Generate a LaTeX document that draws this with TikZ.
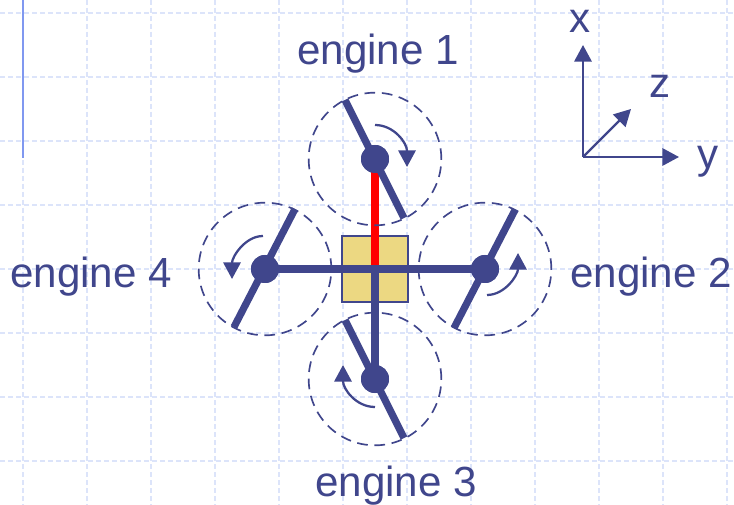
\documentclass[tikz,border=0pt]{standalone}
\usepackage{fontspec}
\setmainfont{Liberation Sans}
\usetikzlibrary{arrows.meta}
\definecolor{RotorBlue}{HTML}{40468C}
\definecolor{GridBlue}{HTML}{DCE4FA}
\definecolor{RuleBlue}{HTML}{8098F0}
\definecolor{BodyYellow}{HTML}{ECD882}
\tikzset{
  gridline/.style={draw=GridBlue, line width=0.8pt, dash pattern=on 3.5pt off 2.5pt},
  sweep/.style={circle, draw=RotorBlue, line width=1.25pt, dash pattern=on 8pt off 5pt, minimum size=99.5pt, inner sep=0pt},
  hub/.style={circle, fill=RotorBlue, minimum size=21pt, inner sep=0pt},
  blade/.style={draw=RotorBlue, line width=5.4pt},
  arm/.style={draw=RotorBlue, line width=6pt},
  turn/.style={draw=RotorBlue, line width=1.7pt, -{Triangle[length=12.5pt, width=13pt]}},
  axis/.style={draw=RotorBlue, line width=1.7pt, -{Triangle[length=12.5pt, width=13pt]}},
  label/.style={text=RotorBlue, font=\fontsize{31.6}{36}\selectfont, anchor=base, inner sep=0pt}
}
\begin{document}
\begin{tikzpicture}[x=0.75pt, y=-0.75pt]
  \useasboundingbox (0,0) rectangle (734,505);
  \fill[white] (0,0) rectangle (734,505);
  \foreach \gx in {23,87,...,727}
    \draw[gridline] (\gx,0) -- (\gx,505);
  \foreach \gy in {13,77,...,461}
    \draw[gridline] (0,\gy) -- (734,\gy);
  \draw[draw=RuleBlue, line width=1.6pt] (23,0) -- (23,158);

  \node[draw=RotorBlue, line width=1.5pt, fill=BodyYellow, minimum size=49pt, inner sep=0pt] (body) at (375,269) {};
  \coordinate (centre) at (375,269);

  \node[hub] (hubone) at (375,159) {};
  \node[hub] (hubtwo) at (485,269) {};
  \node[hub] (hubthree) at (375,379) {};
  \node[hub] (hubfour) at (265,269) {};

  \draw[draw=red, line width=6pt] (hubone.center) -- (centre);
  \node[sweep] (sweepone) at (hubone) {};
  \node[sweep] (sweeptwo) at (hubtwo) {};
  \node[sweep] (sweepthree) at (hubthree) {};
  \node[sweep] (sweepfour) at (hubfour) {};

  \coordinate (bladeonea) at (345,100);
  \coordinate (bladeoneb) at (404,218);
  \coordinate (bladetwoa) at (515,210);
  \coordinate (bladetwob) at (454,328);
  \coordinate (bladethreea) at (345,320);
  \coordinate (bladethreeb) at (404,438);
  \coordinate (bladefoura) at (295,209);
  \coordinate (bladefourb) at (234,327);
  \draw[blade] (bladeonea) -- (bladeoneb);
  \draw[blade] (bladetwoa) -- (bladetwob);
  \draw[blade] (bladethreea) -- (bladethreeb);
  \draw[blade] (bladefoura) -- (bladefourb);

  \draw[arm] (hubfour.center) -- (hubtwo.center);
  \draw[arm] (centre) -- (hubthree.center);
  \node[hub] at (hubone) {};
  \node[hub] at (hubtwo) {};
  \node[hub] at (hubthree) {};
  \node[hub] at (hubfour) {};

  \coordinate (turnonea) at (375,125);
  \coordinate (turnoneb) at (407,167);
  \coordinate (turntwoa) at (487,295);
  \coordinate (turntwob) at (518,253);
  \coordinate (turnthreea) at (375,407);
  \coordinate (turnthreeb) at (343,365);
  \coordinate (turnfoura) at (263,236);
  \coordinate (turnfourb) at (232,279);
  \draw[turn] (turnonea) .. controls +(19,0) and +(0,-24) .. (turnoneb);
  \draw[turn] (turntwoa) .. controls +(18,0) and +(0,22) .. (turntwob);
  \draw[turn] (turnthreea) .. controls +(-19,0) and +(0,24) .. (turnthreeb);
  \draw[turn] (turnfoura) .. controls +(-18,0) and +(0,-22) .. (turnfourb);

  \coordinate (origin) at (583,157);
  \coordinate (tipx) at (583,45);
  \coordinate (tipy) at (679,157);
  \coordinate (tipz) at (631,109);
  \draw[axis] (origin) -- (tipx);
  \draw[axis] (origin) -- (tipy);
  \draw[axis] (origin) -- (tipz);

  \node[label] (labelone) at (378,65) {engine 1};
  \node[label] (labeltwo) at (651,288) {engine 2};
  \node[label] (labelthree) at (396,496) {engine 3};
  \node[label] (labelfour) at (91,288) {engine 4};
  \node[label] (labelx) at (580,33) {x};
  \node[label] (labely) at (708,169) {y};
  \node[label] (labelz) at (660,98) {z};
\end{tikzpicture}
\end{document}
